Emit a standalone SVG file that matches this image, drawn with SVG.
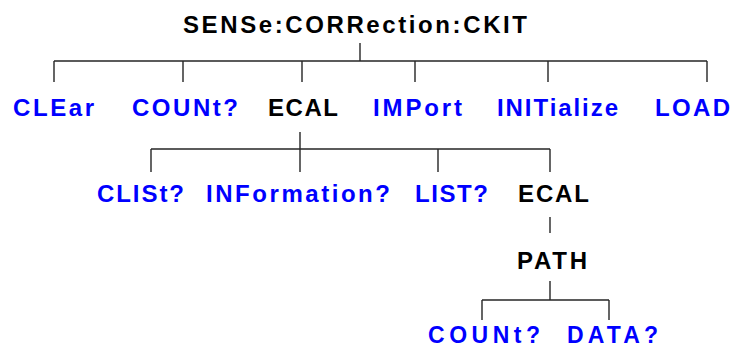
<svg xmlns="http://www.w3.org/2000/svg" width="733" height="348" viewBox="0 0 733 348">
<style>
text{font-family:"Liberation Sans",Arial,sans-serif;font-weight:bold;font-size:24px}
.b{fill:#0000ff}
.k{fill:#000000}
.s{font-size:23px}
.ln{stroke:#262626;stroke-width:1.4;fill:none}
</style>
<rect width="733" height="348" fill="#ffffff"/>
<g id="connectors" class="ln">
<path d="M360 43V61M54 61H707M54 61V82M183 61V82M302 61V82M415 61V82M548 61V82M707 61V82"/>
<path d="M300 132V172M151 149H550M151 149V172M438 149V172M550 149V172"/>
<path d="M550 217V233"/>
<path d="M550 281V300M482 300H609M482 300V320M609 300V320"/>
</g>
<g id="root"><text class="k" x="183" y="32.5" textLength="344" lengthAdjust="spacing">SENSe:CORRection:CKIT</text></g>
<g id="clear"><text class="b" x="13" y="116" textLength="81" lengthAdjust="spacing">CLEar</text></g>
<g id="count1"><text class="b" x="132" y="116" textLength="106" lengthAdjust="spacing">COUNt?</text></g>
<g id="ecal1"><text class="k" x="268" y="116" textLength="70" lengthAdjust="spacing">ECAL</text></g>
<g id="import"><text class="b" x="373" y="116" textLength="89" lengthAdjust="spacing">IMPort</text></g>
<g id="init"><text class="b" x="497" y="116" textLength="121" lengthAdjust="spacing">INITialize</text></g>
<g id="load"><text class="b" x="655" y="116" textLength="75" lengthAdjust="spacing">LOAD</text></g>
<g id="clist"><text class="b" x="97" y="202" textLength="87" lengthAdjust="spacing">CLISt?</text></g>
<g id="info"><text class="b" x="206" y="202" textLength="184" lengthAdjust="spacing">INFormation?</text></g>
<g id="list"><text class="b" x="415" y="202" textLength="73" lengthAdjust="spacing">LIST?</text></g>
<g id="ecal2"><text class="k" x="518" y="202" textLength="71" lengthAdjust="spacing">ECAL</text></g>
<g id="path"><text class="k" x="517" y="269" textLength="70" lengthAdjust="spacing">PATH</text></g>
<g id="count2"><text class="b s" x="428" y="342.5" textLength="112" lengthAdjust="spacing">COUNt?</text></g>
<g id="data"><text class="b s" x="567" y="342.5" textLength="91" lengthAdjust="spacing">DATA?</text></g>
</svg>
